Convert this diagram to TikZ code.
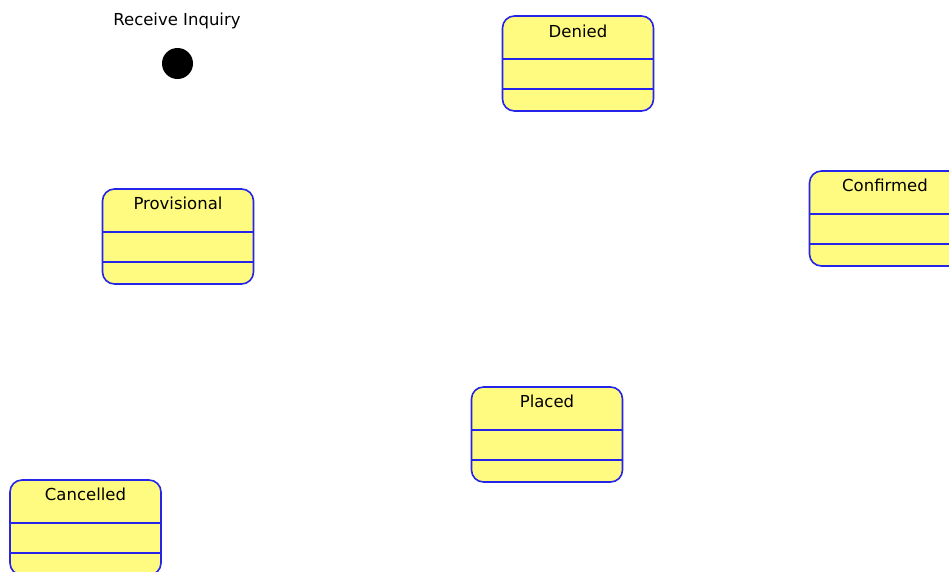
\documentclass[tikz,border=0pt]{standalone}
\usepackage{fontspec}
\setmainfont{DejaVu Sans}
\usepackage{tikz}
\usetikzlibrary{positioning, calc}
\definecolor{stateyellow}{RGB}{255,251,128}
\definecolor{stateblue}{RGB}{36,36,235}
\tikzset{
    divider/.style={draw=stateblue, line width=1.6pt},
    state/.style={draw=stateblue, fill=stateyellow, line width=1.6pt, rounded corners=12pt,
        minimum width=151pt, minimum height=95pt, outer sep=0pt, inner sep=0pt,
        path picture={
            \draw[divider] ([yshift=-43pt]path picture bounding box.north west)
                -- ([yshift=-43pt]path picture bounding box.north east);
            \draw[divider] ([yshift=-73pt]path picture bounding box.north west)
                -- ([yshift=-73pt]path picture bounding box.north east);
        }},
    statename/.style={font=\fontsize{16.5}{18}\selectfont, anchor=base, inner sep=0pt},
    initial/.style={circle, fill=black, minimum size=31pt, inner sep=0pt}
}

\begin{document}
\begin{tikzpicture}[x=1pt, y=-1pt]
    % fixed frame, Confirmed runs off the right edge
    \clip (0,0) rectangle (949,571);

    % ---------------- STATES ---------------- %
    \node[state] (den) at (578,63.5) {};
    \node[state] (prov) at (178,236.5) {};
    \node[state] (conf) at (885,218.5) {};
    \node[state] (plac) at (547,434.5) {};
    \node[state] (canc) at (85.5,527.5) {};

    % Names
    \node[statename] (denlbl) at ([yshift=-21pt]den.north) {Denied};
    \node[statename] (provlbl) at ([yshift=-20pt]prov.north) {Provisional};
    \node[statename] (conflbl) at ([yshift=-20pt]conf.north) {Confirmed};
    \node[statename] (placlbl) at ([yshift=-20pt]plac.north) {Placed};
    \node[statename] (canclbl) at ([yshift=-20pt]canc.north) {Cancelled};

    % ---------------- INITIAL STATE ---------------- %
    \node[initial] (init) at (177.5,63.5) {};
    \node[statename] (initlbl) at (177,25) {Receive Inquiry};
\end{tikzpicture}
\end{document}
